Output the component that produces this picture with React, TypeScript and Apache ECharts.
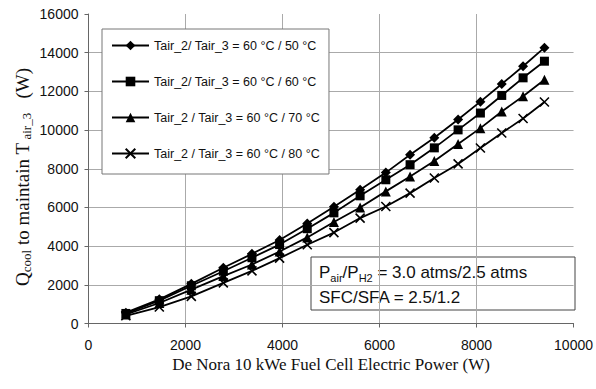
import React, { useEffect, useRef } from "react";
import * as echarts from "echarts";

const xValues = [770, 1460, 2120, 2780, 3370, 3940, 4510, 5060, 5600, 6130, 6630, 7130, 7620, 8080, 8520, 8960, 9400];
const q50 = [560, 1250, 2050, 2880, 3600, 4320, 5170, 6030, 6920, 7800, 8720, 9600, 10550, 11470, 12380, 13300, 14260];
const q60 = [520, 1180, 1950, 2700, 3400, 4080, 4900, 5720, 6600, 7430, 8210, 9080, 10010, 10880, 11790, 12700, 13560];
const q70 = [470, 1060, 1750, 2450, 3050, 3720, 4450, 5250, 6000, 6830, 7600, 8400, 9280, 10100, 10960, 11750, 12600];
const q80 = [400, 850, 1400, 2100, 2720, 3380, 4070, 4700, 5450, 6050, 6740, 7520, 8250, 9070, 9850, 10600, 11450];

const seriesNames = [
  "Tair_2/ Tair_3 = 60 °C / 50 °C",
  "Tair_2/ Tair_3 = 60 °C / 60 °C",
  "Tair_2 / Tair_3 = 60 °C / 70 °C",
  "Tair_2 / Tair_3 = 60 °C / 80 °C",
];
const seriesValues = [q50, q60, q70, q80];
const symbols = ["diamond", "rect", "triangle", "path://M0,0L10,10M10,0L0,10"];
const symbolSizes = [10, 9, 10, 9];

const SANS = "'Liberation Sans', Arial, sans-serif";
const SERIF = "'Liberation Serif', 'Times New Roman', serif";

export default function App() {
  const ref = useRef<HTMLDivElement>(null);
  useEffect(() => {
    if (!ref.current) return;
    const chart = echarts.init(ref.current, null, { renderer: "svg" });
    const series = seriesValues.map((vals, i) => ({
      name: seriesNames[i],
      type: "line",
      data: xValues.map((x, j) => [x, vals[j]]),
      symbol: symbols[i],
      symbolSize: symbolSizes[i],
      showAllSymbol: true,
      lineStyle: { color: "#000", width: 1.8 },
      itemStyle: i === 3
        ? { color: "#000", borderColor: "#000", borderWidth: 1.6 }
        : { color: "#000", borderWidth: 0 },
      z: 5,
    }));
    chart.setOption({
      animation: false,
      backgroundColor: "#fff",
      grid: { left: 88.5, right: 19, top: 14, bottom: 65.5, containLabel: false },
      legend: {
        orient: "vertical",
        left: 102,
        top: 29,
        padding: [10, 9, 14, 9],
        itemWidth: 37,
        itemHeight: 12,
        itemGap: 23,
        borderColor: "#777",
        borderWidth: 1,
        backgroundColor: "#fff",
        textStyle: { fontFamily: SANS, fontSize: 12.5, color: "#111" },
        data: seriesNames,
      },
      xAxis: {
        type: "value",
        min: 0,
        max: 10000,
        interval: 2000,
        name: "De Nora 10 kWe Fuel Cell Electric Power (W)",
        nameLocation: "middle",
        nameGap: 28,
        nameTextStyle: { fontFamily: SERIF, fontSize: 17, color: "#111" },
        axisLine: { lineStyle: { color: "#666", width: 1 } },
        axisTick: { show: true, length: 4, lineStyle: { color: "#666" } },
        axisLabel: { fontFamily: SANS, fontSize: 14, color: "#111", margin: 14, formatter: (v: number) => String(v) },
        splitLine: { show: true, showMaxLine: false, lineStyle: { color: "#aaa", width: 1 } },
      },
      yAxis: {
        type: "value",
        min: 0,
        max: 16000,
        interval: 2000,
        axisLine: { show: true, lineStyle: { color: "#666", width: 1 } },
        axisTick: { show: true, length: 4, lineStyle: { color: "#666" } },
        axisLabel: { fontFamily: SANS, fontSize: 14, color: "#111", margin: 10, formatter: (v: number) => String(v) },
        splitLine: { show: true, showMaxLine: false, lineStyle: { color: "#aaa", width: 1 } },
      },
      graphic: [
        {
          type: "text",
          x: 22,
          y: 177,
          rotation: Math.PI / 2,
          style: {
            text: "{m|Q}{s|cool}{m| to maintain T}{s| air_3}{m|   (W)}",
            align: "center",
            verticalAlign: "middle",
            fill: "#111",
            rich: {
              m: { fontFamily: SERIF, fontSize: 19, lineHeight: 22, verticalAlign: "middle", fill: "#111" },
              s: { fontFamily: SERIF, fontSize: 13, lineHeight: 14, verticalAlign: "bottom", fill: "#111" },
            },
          },
        },
        {
          type: "group",
          z: 20,
          children: [
            {
              type: "rect",
              shape: { x: 311, y: 257, width: 264, height: 53 },
              style: { fill: "#fff", stroke: "#444", lineWidth: 1 },
            },
            {
              type: "text",
              x: 319,
              y: 272,
              style: {
                text: "{m|P}{s|air}{m|/P}{s|H2}{m| = 3.0 atms/2.5 atms}",
                verticalAlign: "middle",
                fill: "#111",
                rich: {
                  m: { fontFamily: SANS, fontSize: 17, lineHeight: 22, verticalAlign: "middle", fill: "#111" },
                  s: { fontFamily: SANS, fontSize: 11, lineHeight: 12, verticalAlign: "bottom", fill: "#111" },
                },
              },
            },
            {
              type: "text",
              x: 319,
              y: 297,
              style: {
                text: "SFC/SFA = 2.5/1.2",
                verticalAlign: "middle",
                fontFamily: SANS,
                fontSize: 17,
                fill: "#111",
              },
            },
          ],
        },
      ],
      series,
    });
    return () => chart.dispose();
  }, []);
  return <div ref={ref} style={{ width: 596, height: 389, position: "absolute", left: 0, top: 0 }} />;
}
